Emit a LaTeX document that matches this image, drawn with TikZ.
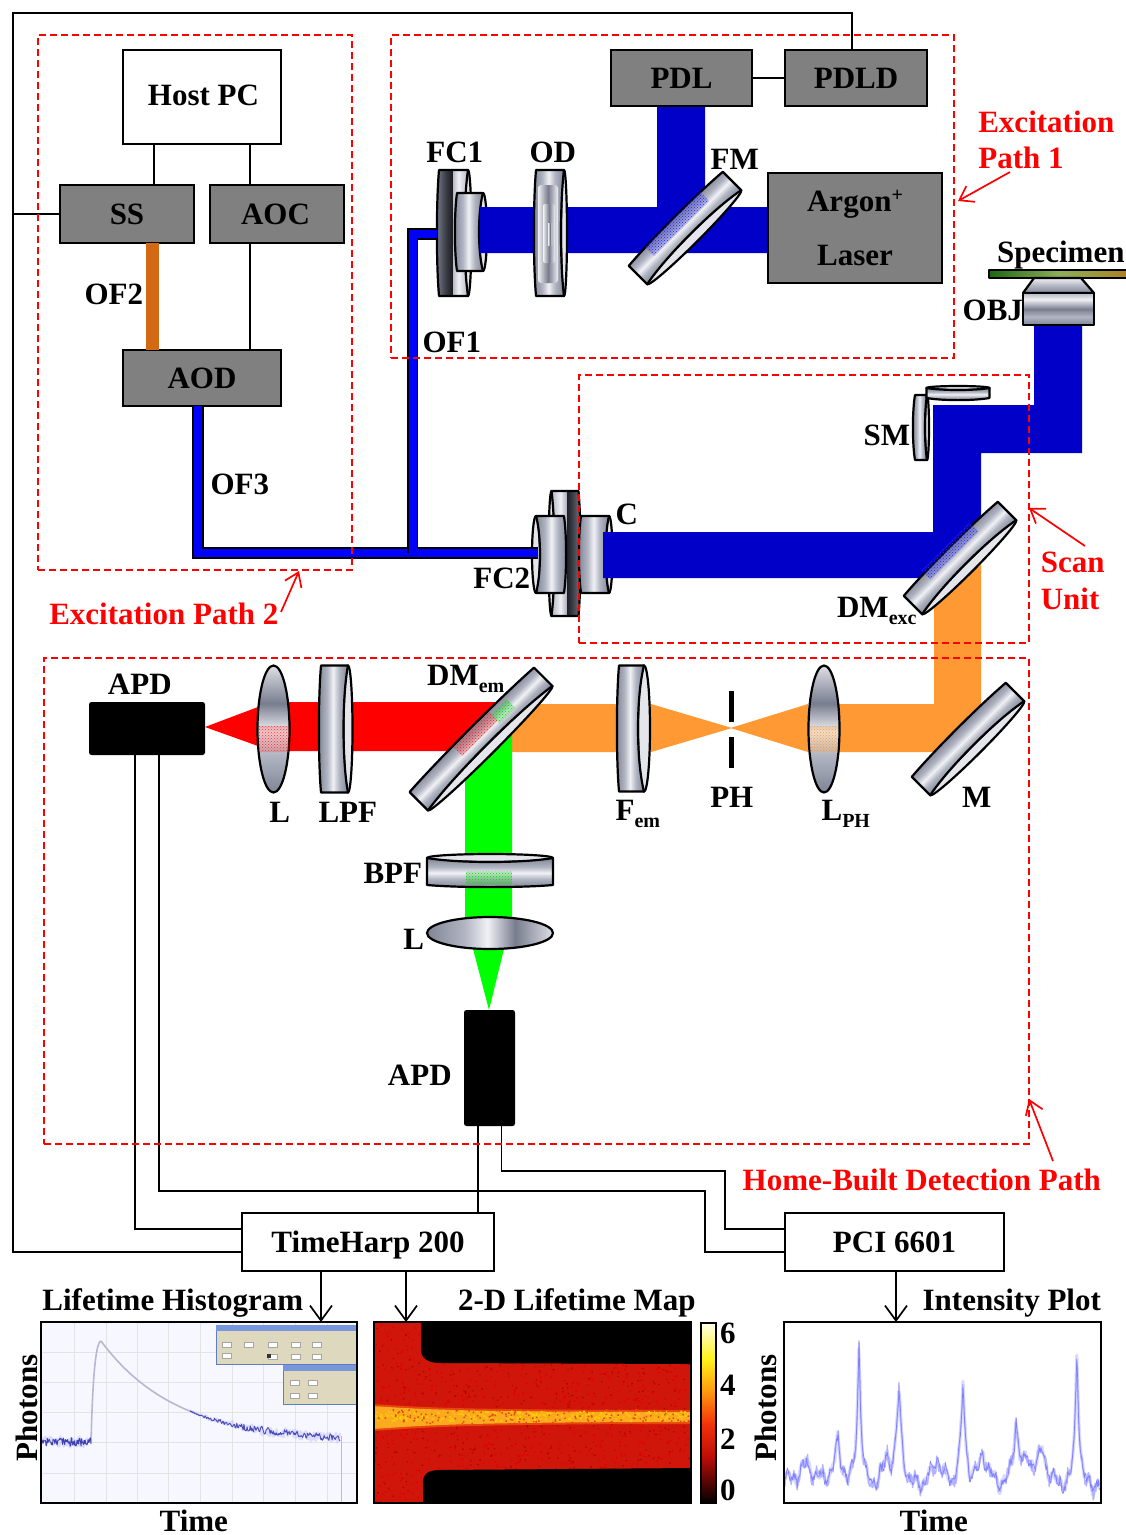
\documentclass[tikz,border=0pt]{standalone}
\usepackage{fontspec}
\setmainfont{Liberation Serif}
\usetikzlibrary{arrows.meta,patterns,calc}
\definecolor{bluebeam}{RGB}{0,0,200}
\definecolor{fibblue}{RGB}{0,0,255}
\definecolor{orbeam}{RGB}{255,153,51}
\definecolor{ofor}{RGB}{210,105,20}
\definecolor{boxgray}{RGB}{128,128,128}
\definecolor{dashred}{RGB}{255,0,0}
\definecolor{optlight}{RGB}{228,230,236}
\definecolor{cA}{RGB}{128,133,150}
\definecolor{cB}{RGB}{178,182,195}
\definecolor{cC}{RGB}{240,241,245}
\definecolor{cD}{RGB}{120,125,142}
\definecolor{cE}{RGB}{222,224,230}
\definecolor{dA}{RGB}{28,28,34}
\definecolor{dB}{RGB}{120,125,140}
\definecolor{dC}{RGB}{66,69,77}
\definecolor{mapred}{RGB}{208,22,10}
\definecolor{mapedge}{RGB}{232,70,15}
\definecolor{mapband}{RGB}{250,170,30}
\definecolor{winbg}{RGB}{222,217,190}
\definecolor{winln}{RGB}{95,125,195}
\definecolor{winti}{RGB}{75,115,205}
\pgfdeclareverticalshading{cylv}{100bp}{color(0bp)=(cA);color(25bp)=(cA);color(40bp)=(cB);color(50bp)=(cC);color(60bp)=(cB);color(75bp)=(cA);color(100bp)=(cA)}
\pgfdeclareverticalshading{diskv}{100bp}{color(0bp)=(cB);color(25bp)=(cB);color(40bp)=(cC);color(49.5bp)=(cB);color(50bp)=(dA);color(62bp)=(dC);color(75bp)=(dB);color(100bp)=(dB)}
\pgfdeclarehorizontalshading{lensh}{100bp}{color(0bp)=(cA);color(25bp)=(cA);color(40bp)=(cB);color(49bp)=(cC);color(60bp)=(cD);color(75bp)=(cE);color(100bp)=(cE)}
\pgfdeclarehorizontalshading{ringh}{100bp}{color(0bp)=(cC);color(25bp)=(cC);color(50bp)=(cD);color(75bp)=(cC);color(100bp)=(cC)}
\pgfdeclareverticalshading{objv}{100bp}{color(0bp)=(cA);color(25bp)=(cA);color(38bp)=(cB);color(50bp)=(cD);color(65bp)=(cC);color(75bp)=(cB);color(100bp)=(cB)}
\pgfdeclareverticalshading{objtopv}{100bp}{color(0bp)=(cA);color(25bp)=(cA);color(50bp)=(cB);color(75bp)=(cC);color(100bp)=(cC)}
\pgfdeclarehorizontalshading{slideh}{100bp}{rgb(0bp)=(.12,.40,.08);rgb(25bp)=(.12,.40,.08);rgb(50bp)=(.55,.68,.35);rgb(75bp)=(.68,.50,.15);rgb(100bp)=(.68,.50,.15)}
\pgfdeclareverticalshading{cbarv}{100bp}{rgb(0bp)=(0,0,0);rgb(25bp)=(0,0,0);rgb(38bp)=(.75,.05,.03);rgb(47bp)=(.95,.20,.03);rgb(56bp)=(1,.60,.05);rgb(65bp)=(1,.95,.1);rgb(75bp)=(1,1,.92);rgb(100bp)=(1,1,.92)}
\newcommand{\lsub}[1]{\raisebox{-0.22em}{\fontsize{20}{20}\selectfont #1}}
\newcommand{\lsup}[1]{\raisebox{0.3em}{\fontsize{20}{20}\selectfont #1}}
% x y rot length thickness bulge
\newcommand{\cylopt}[7][cylv]{%
 \begin{scope}[transform canvas={shift={(#2,#3)},rotate=#4}]
  \pgfmathsetmacro\cL{#5/2}\pgfmathsetmacro\cT{#6/2}
  \pgfmathsetmacro\cH{\cL*0.5}\pgfmathsetmacro\cV{\cT-1.33*#7}\pgfmathsetmacro\cF{-\cT-2.8}
  \draw[optline,fill=optlight] (0,\cT) ellipse [x radius=\cL,y radius=#7];
  \shadedraw[optline,shading=#1] (-\cL,-\cT) .. controls (-\cH,\cF) and (\cH,\cF) .. (\cL,-\cT) -- (\cL,\cT) .. controls (\cH,\cV) and (-\cH,\cV) .. (-\cL,\cT) -- cycle;
 \end{scope}}
\newcommand{\lensopt}[5]{%
 \begin{scope}[transform canvas={shift={(#1,#2)},rotate=#3}]
  \shadedraw[optline,shading=lensh] (0,0) ellipse [x radius=#4,y radius=#5];
 \end{scope}}
\newcommand{\dotpatch}[6]{%
 \begin{scope}[transform canvas={shift={(#1,#2)},rotate=#3}]
  \fill[#6,opacity=.2] (-#4/2,-#5/2) rectangle (#4/2,#5/2);
  \fill[pattern=crosshatch dots,pattern color=#6] (-#4/2,-#5/2) rectangle (#4/2,#5/2);
 \end{scope}}
\tikzset{
 base/.style={font=\bfseries\fontsize{31}{34}\selectfont,inner sep=0pt,outer sep=0pt},
 lab/.style={base,yshift=-1pt,xshift=.8pt},
 redlab/.style={base,text=dashred,xshift=.8pt},
 box/.style={base,draw=black,line width=1.6pt,fill=boxgray,text=black,text depth=0pt,text height=20pt},
 laserbox/.style={base,draw=black,line width=1.6pt,fill=boxgray,text=black},
 whitebox/.style={base,draw=black,line width=1.6pt,fill=white,text depth=0pt,text height=20pt},
 apd/.style={fill=black,rounded corners=2.5pt,inner sep=0pt,outer sep=0pt},
 optline/.style={draw=black,line width=2.2pt,line join=round},
 wire/.style={draw=black,line width=1.5pt},
 outarrow/.style={wire,-{Straight Barb[length=15pt,width=22pt,line width=1.7pt]}},
 redarrow/.style={draw=dashred,line width=1.7pt,-{Straight Barb[length=13pt,width=18pt,line width=1.7pt]}},
 redbox/.style={draw=dashred,line width=2pt,dash pattern=on 7pt off 4pt},
 fiber/.style={draw=black,line width=1.8pt,double=fibblue,double distance=8pt},
 plotframe/.style={draw=black,line width=2.6pt,inner sep=0pt,outer sep=0pt},
 declare function={pk(\x,\c,\w)=exp(-min(abs(\x-\c)/\w,30));
 ints(\x)=148*pk(\x,859,2.6)+95*pk(\x,899,3.6)+100*pk(\x,963,3.2)+65*pk(\x,1016,3.6)+143*pk(\x,1077,2.6)+44*pk(\x,838,5)+28*pk(\x,887,6)+28*pk(\x,937,7)+36*pk(\x,983,6)+36*pk(\x,1042,6)+25*pk(\x,1028,7)+22*pk(\x,806,12);}
}
\begin{document}
\begin{tikzpicture}[x=1pt,y=-1pt]
\useasboundingbox (0,0) rectangle (1126,1535);
\fill[white] (0,0) rectangle (1126,1535);
\pgfmathsetseed{1234}

% guide coordinates for the connectors
\coordinate (c13) at (13,13);
\coordinate (c135) at (135,0);
\coordinate (c152) at (152,0);
\coordinate (c154) at (154,0);
\coordinate (c159) at (159,0);
\coordinate (c198) at (198,0);
\coordinate (c250) at (250,0);
\coordinate (c321) at (321,0);
\coordinate (c406) at (406,0);
\coordinate (c412) at (412.5,0);
\coordinate (c478) at (478,0);
\coordinate (c501) at (501.5,0);
\coordinate (c705) at (705,0);
\coordinate (c725) at (725,0);
\coordinate (c852) at (852,0);
\coordinate (c896) at (896,0);
\coordinate (y13) at (0,13);
\coordinate (y1171) at (0,1171);
\coordinate (y1191) at (0,1191);
\coordinate (y1229) at (0,1229);
\coordinate (y1252) at (0,1252);
\coordinate (fc1in) at (437,234);
\coordinate (fc2in) at (538,553);

% beams
\fill[orbeam] (934,600) -- (981,555) -- (981,720) -- (955,752) -- (810,752) -- (810,704) -- (934,704) -- cycle;
\fill[orbeam] (808,704) -- (730.5,728) -- (808,752) -- cycle;
\fill[orbeam] (500,704) -- (651,704) -- (732,728) -- (651,752) -- (500,752) -- cycle;
\fill[red] (270,702) -- (510,702) -- (470,751) -- (270,751) -- cycle;
\fill[red] (205,727) -- (258,707) -- (258,746) -- cycle;
\fill[green] (465,760) -- (512,720) -- (512,934) -- (465,934) -- cycle;
\fill[green] (472,945) -- (505,945) -- (489,1010) -- cycle;

% optics behind beam ends
\cylopt[diskv]{453.5}{233}{90}{126}{29}{3.5}
\cylopt{470}{232}{90}{78}{26}{4}
\cylopt[diskv]{565}{553.5}{270}{125}{27}{3}
\cylopt{550}{554.5}{270}{77}{28}{4}
\cylopt{595}{554.5}{90}{77}{28}{3.5}

\fill[bluebeam] (480,207) -- (657,207) -- (657,106) -- (705,106) -- (705,207) -- (768,207) -- (768,253) -- (480,253) -- cycle;
\fill[bluebeam] (603,532) -- (933,532) -- (933,405) -- (1034,405) -- (1034,325) -- (1082,325) -- (1082,453) -- (981,453) -- (981,540) -- (940,578) -- (603,578) -- cycle;

% optics over the beams
\cylopt{550}{233}{90}{126}{28}{3}
\shade[shading=ringh,rounded corners=3pt] (538,185) rectangle (558,283);
\shade[shading=ringh,rounded corners=2pt] (543,204) rectangle (555,263);
\shade[shading=ringh] (548,223) rectangle (552,245);
\cylopt{685}{228}{45}{133}{26}{5}
\dotpatch{677}{224}{45}{78}{13}{blue!85}
\cylopt{960}{558}{45}{133}{26}{5}
\dotpatch{950}{551}{45}{68}{13}{blue!85}
\cylopt{968}{739}{45}{133}{26}{5}
\cylopt{481}{739}{45}{176}{26}{5}
\dotpatch{476}{734}{45}{50}{12}{red!90}
\dotpatch{503}{711}{45}{22}{12}{green!85!black}
\cylopt{334.5}{729}{90}{127}{27}{4.5}
\cylopt{631.5}{728.5}{90}{126}{25}{6}
\cylopt{490}{871.5}{180}{126}{27}{4}
\dotpatch{489}{878}{0}{46}{13}{green!85!black}
\cylopt{921}{427.5}{90}{65}{12}{2}
\cylopt{958}{393}{180}{63}{10}{2}
\lensopt{273.5}{729}{90}{63.5}{16}
\dotpatch{273.5}{739}{0}{30}{26}{red!80}
\lensopt{824}{729}{90}{63.5}{15.5}
\dotpatch{824}{739}{0}{28}{26}{orbeam}
\lensopt{490}{933}{0}{63}{16}

% specimen and objective
\shadedraw[optline,shading=slideh] (989,270) rectangle (1128,278);
\shadedraw[optline,shading=objtopv] (1034,278) -- (1081,278) -- (1094,293) -- (1023,293) -- cycle;
\shadedraw[optline,shading=objv] (1023,293) rectangle (1094,325);

% pinhole
\fill[black] (729,691) rectangle (734,722);
\fill[black] (729,737) rectangle (734,768);

% boxes
\node[whitebox,minimum width=158,minimum height=94] (host) at (202,97) {\hspace*{3pt}\raisebox{2pt}{Host PC}};
\node[box,minimum width=134,minimum height=58] (ss) at (127,214) {SS};
\node[box,minimum width=134,minimum height=58] (aoc) at (277,214) {\hspace*{-3pt}AOC};
\node[box,minimum width=158,minimum height=56] (aod) at (202,378) {AOD};
\node[box,minimum width=141,minimum height=56] (pdl) at (681.5,78) {PDL};
\node[box,minimum width=142,minimum height=56] (pdld) at (856,78) {PDLD};
\node[laserbox,minimum width=174,minimum height=110,align=center,font=\bfseries\fontsize{31}{54}\selectfont] (laser) at (855,228) {Argon\lsup{+}\\Laser};
\node[apd,minimum width=116,minimum height=53] (apdh) at (147,728.5) {};
\node[apd,minimum width=51,minimum height=116] (apdv) at (489.5,1068) {};
\node[whitebox,minimum width=252,minimum height=58] (th) at (368,1242) {TimeHarp 200};
\node[whitebox,minimum width=219,minimum height=58] (pci) at (894.5,1242) {PCI 6601};

% fibres
\draw[line width=13pt,ofor] (c152 |- ss.south) -- (c152 |- aod.north);
\draw[fiber] (c198 |- aod.south) -- (c198 |- fc2in) -- (fc2in);
\draw[fiber] (fc1in) -- (c412 |- fc1in) -- (c412 |- fc2in);

% electrical connectors
\draw[wire] (c154 |- host.south) -- (c154 |- ss.north);
\draw[wire] (c250 |- host.south) -- (c250 |- aoc.north);
\draw[wire] (c250 |- aoc.south) -- (c250 |- aod.north);
\draw[draw=black,line width=2.6pt] (pdl.east) -- (pdl.east -| pdld.west);
\draw[wire] (c852 |- pdld.north) -- (c852 |- y13) -- (c13) -- (c13 |- y1252) -- (th.west |- y1252);
\draw[wire] (c13 |- ss.west) -- (ss.west);
\draw[wire] (c135 |- apdh.south) -- (c135 |- y1229) -- (th.west |- y1229);
\draw[wire] (c159 |- apdh.south) -- (c159 |- y1191) -- (c705 |- y1191) -- (c705 |- y1252) -- (pci.west |- y1252);
\draw[wire] (c478 |- apdv.south) -- (c478 |- th.north);
\draw[wire] (c501 |- apdv.south) -- (c501 |- y1171) -- (c725 |- y1171) -- (c725 |- y1229) -- (pci.west |- y1229);

% plot 1: lifetime histogram
\node[plotframe,fill=white!97!blue,minimum width=316,minimum height=181] (hist) at (199,1412.5) {};
\begin{scope}
 \clip (hist.south west) rectangle (hist.north east);
 \draw[gray!22,line width=.8pt] \foreach \gx in {74,106,137,168,200,232,263,295,327} {(\gx,1322) -- (\gx,1503)};
 \draw[gray!22,line width=.8pt] \foreach \gy in {1352,1382,1412,1442,1473} {(41,\gy) -- (358,\gy)};
 % dialog windows
 \filldraw[fill=winbg,draw=winln,line width=.8pt] (216,1325) rectangle (358,1364);
 \fill[winti!75] (216,1325) rectangle (358,1331);
 \filldraw[fill=winbg,draw=winln,line width=.8pt] (283,1365) rectangle (358,1404);
 \fill[winti!75] (283,1365) rectangle (358,1371);
 \filldraw[fill=white,draw=gray!70,line width=.4pt] \foreach \wx/\wy in {222/1342,222/1353,244/1342,268/1342,268/1354,291/1342,291/1354,312/1342,312/1354,290/1380,290/1393,308/1380,308/1393} {(\wx,\wy) rectangle ++(9,5)};
 \fill[black!80] (267,1354) rectangle ++(4,4);
 % curve
 \draw[blue!25!gray!45,line width=1.6pt,line join=round] (91,1443) .. controls (92,1405) and (94,1342) .. (101,1341) plot[domain=101:200,samples=50] (\x,{1442-101*exp(-(\x-101)/75)});
 \draw[blue!40!white!60,line width=2.4pt,line join=round,opacity=.5] plot[domain=190:340,samples=150] (\x,{1442-101*exp(-(\x-101)/75)+rand*min((\x-190)/14+.5,5)});
 \draw[blue!60!black!70,line width=.9pt,line join=round] plot[domain=190:340,samples=190] (\x,{1442-101*exp(-(\x-101)/75)+rand*min((\x-190)/20+.5,3.6)});
 \draw[blue!40!white!60,line width=2.4pt,line join=round,opacity=.5] plot[domain=42:91,samples=60] (\x,{1442+rand*6});
 \draw[blue!60!black!75,line width=.9pt,line join=round] plot[domain=42:91,samples=85] (\x,{1442+rand*4.4});
 \draw[blue!30!gray!40,line width=1pt] (341,1436) -- (341,1503);
\end{scope}
\draw[plotframe] (hist.south west) rectangle (hist.north east);

% plot 2: lifetime map
\node[plotframe,fill=mapred,minimum width=317,minimum height=181] (map) at (532.5,1412.5) {};
\begin{scope}
 \clip (map.south west) rectangle (map.north east);
 \fill[red!88!black] \foreach \i in {1,...,900} {({374+rnd*317},{1322+rnd*181}) rectangle ++(1.6,1.6)};
 \fill[red!70!black] \foreach \i in {1,...,450} {({374+rnd*317},{1322+rnd*181}) rectangle ++(1.4,1.4)};
 \fill[mapedge] (372,1404) .. controls (420,1407) and (450,1410) .. (692,1410) -- (692,1424) .. controls (450,1424) and (420,1428) .. (372,1431) -- cycle;
 \fill[mapband] (372,1406) .. controls (420,1409) and (450,1412) .. (692,1412) -- (692,1422) .. controls (450,1422) and (420,1426) .. (372,1429) -- cycle;
 \fill[yellow!65!orange] \foreach \i in {1,...,260} {({375+rnd*315},{1415.5+rand*5}) rectangle ++(1.6,1.6)};
 \fill[mapedge] \foreach \i in {1,...,160} {({375+rnd*315},{1416+rand*7}) rectangle ++(1.5,1.5)};
 \fill[black] (421,1322) -- (421,1350) .. controls (421,1358) and (428,1363) .. (440,1363) -- (692,1364) -- (692,1322) -- cycle;
 \fill[black] (423,1505) -- (423,1482) .. controls (423,1474) and (428,1470) .. (440,1470) -- (692,1468) -- (692,1505) -- cycle;
\end{scope}
\draw[plotframe] (map.south west) rectangle (map.north east);
\shadedraw[draw=black,line width=2pt,shading=cbarv] (701,1323) rectangle (716,1503);

% plot 3: intensity plot
\node[plotframe,fill=white,minimum width=317,minimum height=181] (int) at (942.5,1412.5) {};
\begin{scope}
 \clip (int.south west) rectangle (int.north east);
 \draw[blue!14,line width=3.2pt,line join=round] plot[domain=785:1100,samples=300] (\x,{1492-ints(\x)-7-5*sin((\x-785)*23)-4*sin((\x-785)*50)+rand*4});
 \draw[blue!30,line width=1.3pt,line join=round] plot[domain=785:1100,samples=460] (\x,{1492-ints(\x)-7-5*sin((\x-785)*23)-4*sin((\x-785)*50)+rand*7});
 \draw[blue!50,line width=.7pt,line join=round] plot[domain=785:1100,samples=380] (\x,{1492-ints(\x)-7-5*sin((\x-785)*23)-4*sin((\x-785)*50)+rand*5});
\end{scope}
\draw[plotframe] (int.south west) rectangle (int.north east);

% output arrows
\draw[outarrow] (c321 |- th.south) -- (c321 |- hist.north);
\draw[outarrow] (c406 |- th.south) -- (c406 |- map.north);
\draw[outarrow] (c896 |- pci.south) -- (c896 |- int.north);

% dashed regions
\node[redbox,minimum width=314,minimum height=535,inner sep=0pt,outer sep=0pt] (reg2) at (195,302.5) {};
\node[redbox,minimum width=563,minimum height=323,inner sep=0pt,outer sep=0pt] (reg1) at (672.5,196.5) {};
\node[redbox,minimum width=450,minimum height=268,inner sep=0pt,outer sep=0pt] (regs) at (804,509) {};
\node[redbox,minimum width=985,minimum height=486,inner sep=0pt,outer sep=0pt] (regd) at (536.5,901) {};

% labels
\node[lab] (lfc1) at (454,151) {FC1};
\node[lab] (lod) at (552,151) {OD};
\node[lab] (lfm) at (734,158) {FM};
\node[lab] (lspec) at (1060,254) {Specimen};
\node[lab] (lobj) at (992,309) {OBJ};
\node[lab] (lof1) at (451,341) {OF1};
\node[lab] (lof2) at (113,293) {OF2};
\node[lab] (lof3) at (239,483) {OF3};
\node[lab] (lsm) at (886,434) {SM};
\node[lab] (lc) at (626,513) {C};
\node[lab] (lfc2) at (501,577) {FC2};
\node[lab] (ldmx) at (876,610) {DM\lsub{exc}};
\node[lab] (lapdh) at (139,683) {APD};
\node[lab] (ldme) at (465,678) {DM\lsub{em}};
\node[lab] (ll1) at (279,811) {L};
\node[lab] (llpf) at (347,811) {LPF};
\node[lab] (lfem) at (637,813) {F\lsub{em}};
\node[lab] (lph) at (731,796) {PH};
\node[lab] (llph) at (845,813) {L\lsub{PH}};
\node[lab] (lm) at (976,796) {M};
\node[lab] (lbpf) at (392,872) {BPF};
\node[lab] (ll2) at (413,938) {L};
\node[lab] (lapdv) at (419,1074) {APD};
\node[lab] (tlh) at (172,1302) {Lifetime Histogram};
\node[lab] (tlm) at (576,1302) {2-D Lifetime Map};
\node[lab] (tip) at (1011,1302) {Intensity Plot};
\node[lab,rotate=90,xshift=-.8pt] (ph1) at (26,1406) {Photons};
\node[lab,rotate=90,xshift=-.8pt] (ph2) at (765,1406) {Photons};
\node[lab] (t1) at (193,1519.5) {Time};
\node[lab] (t2) at (933,1519.5) {Time};
\node[lab] (cb6) at (727,1332) {6};
\node[lab] (cb4) at (727,1384) {4};
\node[lab] (cb2) at (727,1438) {2};
\node[lab] (cb0) at (727,1489) {0};

\node[redlab,align=left,anchor=west,font=\bfseries\fontsize{31}{36}\selectfont] (lex1) at (977.5,140) {Excitation\\Path 1};
\node[redlab,align=left,anchor=west,font=\bfseries\fontsize{31}{37}\selectfont] (lscan) at (1040,581) {Scan\\Unit};
\node[redlab] (lex2) at (163,614) {Excitation Path 2};
\node[redlab] (lhome) at (921,1180) {Home-Built Detection Path};

\coordinate (ax1) at (1010,172);
\coordinate (bx1) at (958,201);
\coordinate (ax2) at (281,612);
\coordinate (bx2) at (299,571);
\coordinate (axs) at (1085,546);
\coordinate (bxs) at (1029,508);
\coordinate (axh) at (1053,1161);
\coordinate (bxh) at (1029,1099);
\draw[redarrow] (ax1) -- (bx1);
\draw[redarrow] (ax2) -- (bx2);
\draw[redarrow] (axs) -- (bxs);
\draw[redarrow] (axh) -- (bxh);
\end{tikzpicture}
\end{document}
